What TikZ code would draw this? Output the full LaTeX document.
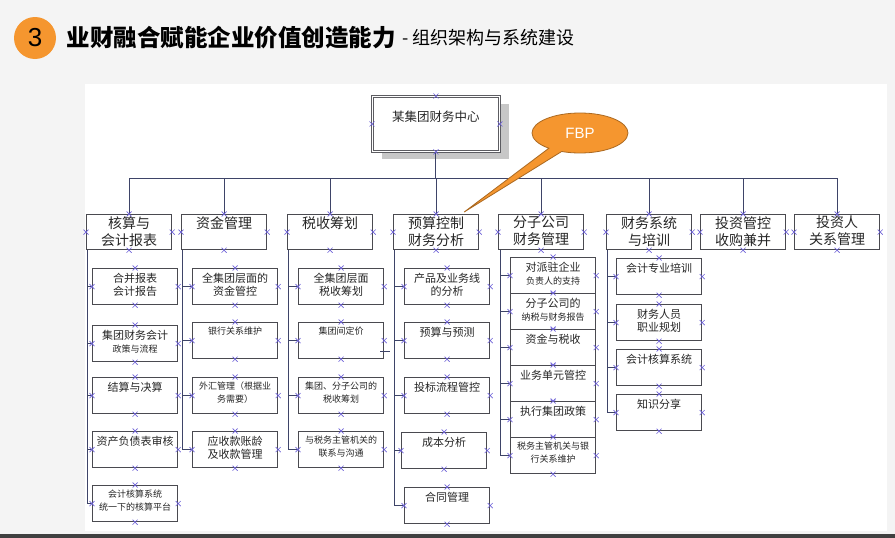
\documentclass[tikz,border=0pt]{standalone}
\usepackage{fontspec}
\setmainfont{Noto Sans CJK SC}
\newfontfamily\latinsf{Liberation Sans}
\usetikzlibrary{positioning,shapes.callouts,shadows}
\definecolor{bgc}{HTML}{F4F4F4}
\definecolor{boxc}{HTML}{4A4A50}
\definecolor{linec}{HTML}{3E4468}
\definecolor{mkc}{HTML}{6E62D8}
\definecolor{orng}{HTML}{F5962F}
\newcommand\sm{\fontsize{9}{12}\selectfont}
\newcommand\xmarks[1]{\foreach \a in {north,south,east,west}
  \draw[mk] (#1.\a) +(-2.5pt,-2.5pt) -- +(2.5pt,2.5pt) +(-2.5pt,2.5pt) -- +(2.5pt,-2.5pt);}
\tikzset{
  box/.style={draw=boxc, line width=1.2pt, fill=white, anchor=north west, inner sep=0pt,
    minimum width=85pt, minimum height=36pt},
  lbl/.style={anchor=north, align=center, inner sep=0pt, text=black!85, yshift=-5pt,
    font=\fontsize{11}{13}\selectfont},
  cbox/.style={box, label={[lbl]north:{#1}}},
  hbox/.style={box, minimum height=35pt,
    label={[lbl, yshift=3pt, font=\fontsize{14}{17}\selectfont]north:{#1}}},
  conn/.style={draw=linec, line width=1pt},
  mk/.style={draw=mkc, line width=0.6pt},
}
\begin{document}
\begin{tikzpicture}[x=1pt,y=-1pt]
\useasboundingbox (0,0) rectangle (895,538);
\fill[bgc] (0,0) rectangle (895,538);
\fill[white] (85,84) rectangle (887,531);
\fill[black!75] (0,534) rectangle (895,538);

\node[circle, fill=orng, minimum size=42pt, inner sep=0pt,
  font=\latinsf\fontsize{26}{26}\selectfont] (num) at (35,38) {3};
\node[anchor=west, font=\fontsize{23.5}{23.5}\selectfont\bfseries] (title) at (63,38) {业财融合赋能企业价值创造能力};
\node[right=0pt of title, font=\fontsize{18}{18}\selectfont] (sub) {- 组织架构与系统建设};

\node[box, draw=boxc!90, line width=0.9pt, double=white, double distance=1.6pt,
  minimum width=127pt, minimum height=55pt,
  general shadow={fill=black!22, shadow xshift=10pt, shadow yshift=-8pt},
  label={[lbl, yshift=-10pt, font=\fontsize{12.5}{15}\selectfont]north:某集团财务中心}] (top) at (372,96) {};

\foreach \x/\txt [count=\i] in {86/{核算与\\会计报表}, 181/资金管理, 287/税收筹划,
  393/{预算控制\\财务分析}, 498/{分子公司\\财务管理}, 606/{财务系统\\与培训},
  700/{投资管控\\收购兼并}, 794/{投资人\\关系管理}}
  \node[hbox=\txt] (k\i) at (\x,214) {};

\coordinate (bus) at (0,178);
\draw[conn] (top.south) -- (top.south |- bus);
\draw[conn] (k1.north |- bus) -- (k8.north |- bus);
\foreach \i in {1,...,8} \draw[conn] (k\i.north |- bus) -- (k\i.north);
\foreach \n in {top,k1,k2,k3,k4,k5,k6,k7,k8} \xmarks{\n};

\foreach \y/\txt [count=\j] in {268/{合并报表\\会计报告}, 325/{集团财务会计\\\sm 政策与流程},
  377/结算与决算, 431/资产负债表审核, 485/{\sm 会计核算系统\\\sm 统一下的核算平台}} {
  \node[cbox=\txt] (a\j) at (92,\y) {};
  \draw[conn] ([xshift=1pt]k1.south west) |- (a\j.west);
  \xmarks{a\j}
}
\foreach \y/\txt [count=\j] in {268/{全集团层面的\\资金管控}, 322/{\sm 银行关系维护},
  377/{\sm 外汇管理（根据业\\\sm 务需要）}, 431/{应收款账龄\\及收款管理}} {
  \node[cbox=\txt] (b\j) at (192,\y) {};
  \draw[conn] ([xshift=1pt]k2.south west) |- (b\j.west);
  \xmarks{b\j}
}
\foreach \y/\txt [count=\j] in {268/{全集团层面\\税收筹划}, 322/{\sm 集团间定价},
  377/{\sm 集团、分子公司的\\\sm 税收筹划}, 431/{\sm 与税务主管机关的\\\sm 联系与沟通}} {
  \node[cbox=\txt] (c\j) at (298,\y) {};
  \draw[conn] ([xshift=1pt]k3.south west) |- (c\j.west);
  \xmarks{c\j}
}
\draw[conn] (380,351) -- (390,351);
\foreach \x/\y/\txt [count=\j] in {404/268/{产品及业务线\\的分析}, 404/322/预算与预测,
  404/377/投标流程管控, 401/432/成本分析, 404/487/合同管理} {
  \node[cbox=\txt] (d\j) at (\x,\y) {};
  \draw[conn] ([xshift=1pt]k4.south west) |- (d\j.west);
  \xmarks{d\j}
}
\foreach \y/\txt [count=\j] in {257/{对派驻企业\\\sm 负责人的支持}, 293/{分子公司的\\\sm 纳税与财务报告},
  329/资金与税收, 365/业务单元管控, 401/执行集团政策, 437/{\sm 税务主管机关与银\\\sm 行关系维护}} {
  \node[cbox=\txt] (e\j) at (510,\y) {};
  \draw[conn] ([xshift=2pt]k5.south west) |- (e\j.west);
  \xmarks{e\j}
}
\foreach \y/\txt [count=\j] in {258/会计专业培训, 304/{财务人员\\职业规划},
  349/会计核算系统, 394/知识分享} {
  \node[cbox=\txt] (f\j) at (616,\y) {};
  \draw[conn] ([xshift=1pt]k6.south west) |- (f\j.west);
  \xmarks{f\j}
}

\node[ellipse callout, fill=orng, draw=orng!70!black, line width=0.8pt,
  minimum width=96pt, minimum height=40pt, callout pointer arc=18,
  callout absolute pointer={([xshift=-15pt,yshift=2pt]k4.north east)},
  text=white, font=\latinsf\fontsize{15}{15}\selectfont] (fbp) at (580,133) {FBP};
\end{tikzpicture}
\end{document}
